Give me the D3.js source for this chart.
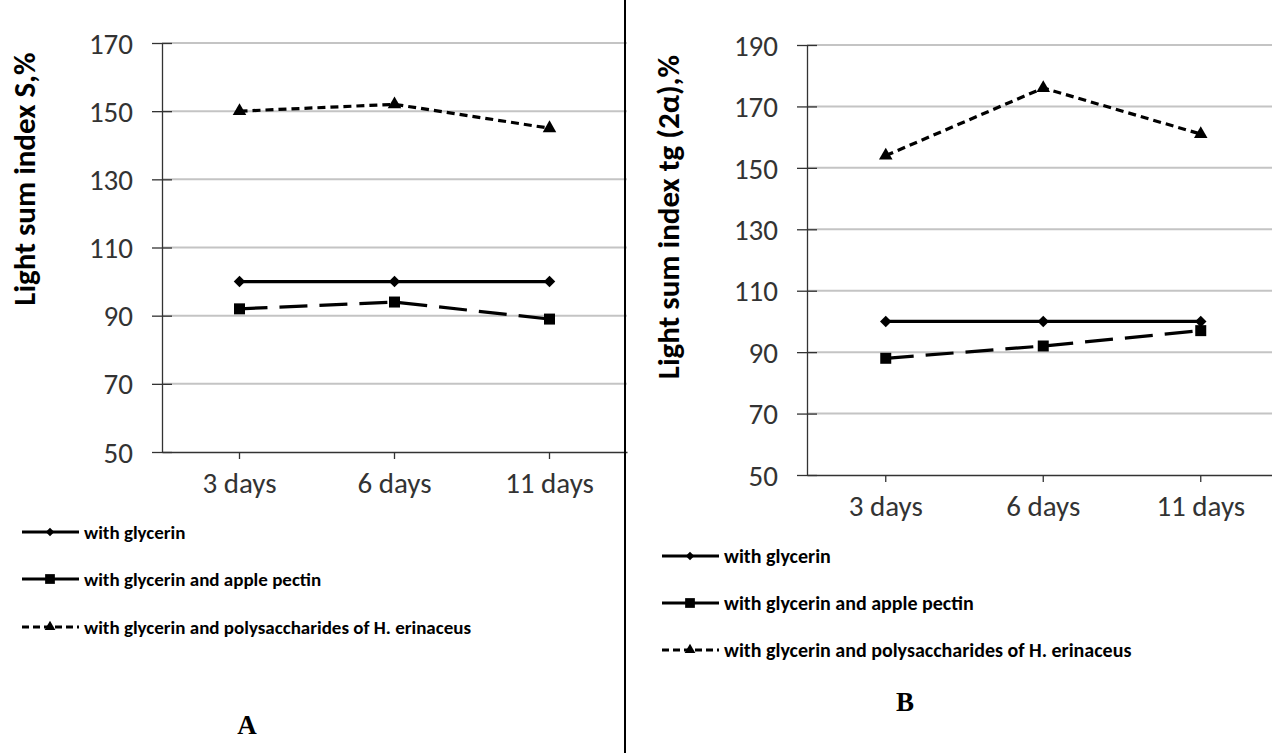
<!DOCTYPE html>
<html>
<head>
<meta charset="utf-8">
<script src="https://cdn.jsdelivr.net/npm/d3@7"></script>
<style>
    body { margin: 0; background: #fff; }
    svg { display: block; }
    .tick-label { font-family: Carlito, Lato, sans-serif; fill: #333; }
</style>
</head>
<body>
<div id="chart"></div>
<script>
"use strict";

let days = ['3 days', '6 days', '11 days'];
let seriesNames = ['with glycerin', 'with glycerin and apple pectin',
    'with glycerin and polysaccharides of H. erinaceus'];

// Panel A: light sum index S, %
let glycerinA = [100, 100, 100];
let pectinA = [92, 94, 89];
let hericiumA = [150, 152, 145];
let ticksA = [50, 70, 90, 110, 130, 150, 170];

// Panel B: light sum index tg (2a), %
let glycerinB = [100, 100, 100];
let pectinB = [88, 92, 97];
let hericiumB = [154, 176, 161];
let ticksB = [50, 70, 90, 110, 130, 150, 170, 190];

let svg = d3.select('#chart').append('svg')
    .attr('width', 1272)
    .attr('height', 753);
svg.append('rect').attr('width', 1272).attr('height', 753).attr('fill', '#fff');

// Line style per series: solid, long dash, short dash
let styles = [
    {dash: null, symbol: d3.symbolSquare, size: 66, rotate: 45, legendSize: 36},
    {dash: '28,12', symbol: d3.symbolSquare, size: 121, rotate: 0, legendSize: 95},
    {dash: '8,5', symbol: d3.symbolTriangle, size: 80, rotate: 0, legendSize: 50}
];

function drawPanel(p) {
    let x = d3.scaleBand().domain(days).range([p.left, p.right]);
    let y = d3.scaleLinear().domain([p.ticks[0], p.ticks[p.ticks.length - 1]])
        .range([p.bottom, p.top]);
    let g = svg.append('g');

    // Horizontal gridlines
    g.selectAll('line.grid')
      .data(p.ticks.slice(1))
      .enter().append('line')
        .classed('grid', true)
        .attr('x1', p.left).attr('x2', p.gridEnd)
        .attr('y1', function (d) { return y(d); })
        .attr('y2', function (d) { return y(d); })
        .attr('stroke', '#c4c4c4')
        .attr('stroke-width', 2);

    // Y axis with ticks crossing the line
    let yAxis = d3.axisLeft(y).tickValues(p.ticks).tickSize(0).tickPadding(29);
    let ya = g.append('g')
        .attr('transform', 'translate(' + p.left + ',0)')
        .call(yAxis);
    ya.select('.domain').attr('stroke', '#333').attr('stroke-width', 1.3);
    ya.selectAll('.tick line').attr('x1', -10).attr('x2', 10)
        .attr('stroke', '#333').attr('stroke-width', 1.3);
    ya.selectAll('.tick text').attr('class', 'tick-label')
        .style('font-size', '29px').attr('dy', '0.35em');

    // X axis with ticks at category centres
    let xAxis = d3.axisBottom(x).tickSizeInner(7).tickSizeOuter(0).tickPadding(13);
    let xa = g.append('g')
        .attr('transform', 'translate(0,' + p.bottom + ')')
        .call(xAxis);
    xa.select('.domain').attr('stroke', '#333').attr('stroke-width', 1.3);
    xa.selectAll('.tick line').attr('stroke', '#333').attr('stroke-width', 1.3);
    xa.selectAll('.tick text').attr('class', 'tick-label')
        .style('font-size', '29px');

    // Axis title
    g.append('text')
        .attr('transform', 'translate(' + p.titleX + ',' + p.titleY + ') rotate(-90)')
        .attr('text-anchor', 'middle')
        .attr('dy', '0.35em')
        .style('font-family', 'Carlito, Lato, sans-serif')
        .style('font-weight', 'bold')
        .style('font-size', '31px')
        .text(p.title);

    let line = d3.line()
        .x(function (d, i) { return x(days[i]) + x.bandwidth() / 2; })
        .y(function (d) { return y(d); });

    p.series.forEach(function (values, si) {
        let st = styles[si];
        g.append('path')
            .datum(values)
            .attr('d', line)
            .attr('fill', 'none')
            .attr('stroke', '#000')
            .attr('stroke-width', 3.2)
            .attr('stroke-dasharray', st.dash);
        g.selectAll('path.mk' + si)
          .data(values)
          .enter().append('path')
            .classed('mk' + si, true)
            .attr('d', d3.symbol().type(st.symbol).size(st.size))
            .attr('transform', function (d, i) {
                return 'translate(' + (x(days[i]) + x.bandwidth() / 2) + ',' + y(d) +
                    ') rotate(' + st.rotate + ')';
            })
            .attr('fill', '#000');
    });

    // Legend (Excel draws the pectin entry solid)
    let legend = g.selectAll('g.legend')
      .data(seriesNames)
      .enter().append('g')
        .classed('legend', true)
        .attr('transform', function (d, i) {
            return 'translate(' + p.legendX + ',' + p.legendY[i] + ')';
        });
    legend.append('line')
        .attr('x1', 0).attr('x2', 57)
        .attr('stroke', '#000')
        .attr('stroke-width', 3)
        .attr('stroke-dasharray', function (d, i) { return i === 2 ? '7,4' : null; });
    legend.append('path')
        .attr('d', function (d, i) {
            return d3.symbol().type(styles[i].symbol).size(styles[i].legendSize)();
        })
        .attr('transform', function (d, i) {
            return 'translate(28,0) rotate(' + styles[i].rotate + ')';
        })
        .attr('fill', '#000');
    legend.append('text')
        .attr('x', 62)
        .attr('dy', '0.35em')
        .style('font-family', 'Carlito, Lato, sans-serif')
        .style('font-weight', 'bold')
        .style('font-size', p.legendFont)
        .text(function (d) { return d; });

    // Panel letter
    g.append('text')
        .attr('x', p.letterX).attr('y', p.letterY)
        .attr('text-anchor', 'middle')
        .attr('dy', '0.35em')
        .style('font-family', '"Liberation Serif", serif')
        .style('font-weight', 'bold')
        .style('font-size', '27px')
        .text(p.letter);
}

drawPanel({
    left: 162, right: 627, top: 43, bottom: 452, gridEnd: 627,
    ticks: ticksA, series: [glycerinA, pectinA, hericiumA],
    title: 'Light sum index S,%', titleX: 24, titleY: 179,
    legendX: 22, legendY: [532, 579, 627], legendFont: '19px',
    letter: 'A', letterX: 247, letterY: 725
});
drawPanel({
    left: 807, right: 1279.5, top: 45, bottom: 475, gridEnd: 1272,
    ticks: ticksB, series: [glycerinB, pectinB, hericiumB],
    title: 'Light sum index tg (2\u03b1),%', titleX: 668, titleY: 217,
    legendX: 662, legendY: [556, 603, 650], legendFont: '20px',
    letter: 'B', letterX: 905, letterY: 702
});

// Vertical divider between the panels
svg.append('line')
    .attr('x1', 625).attr('x2', 625)
    .attr('y1', 0).attr('y2', 753)
    .attr('stroke', '#000')
    .attr('stroke-width', 2);
</script>
</body>
</html>
